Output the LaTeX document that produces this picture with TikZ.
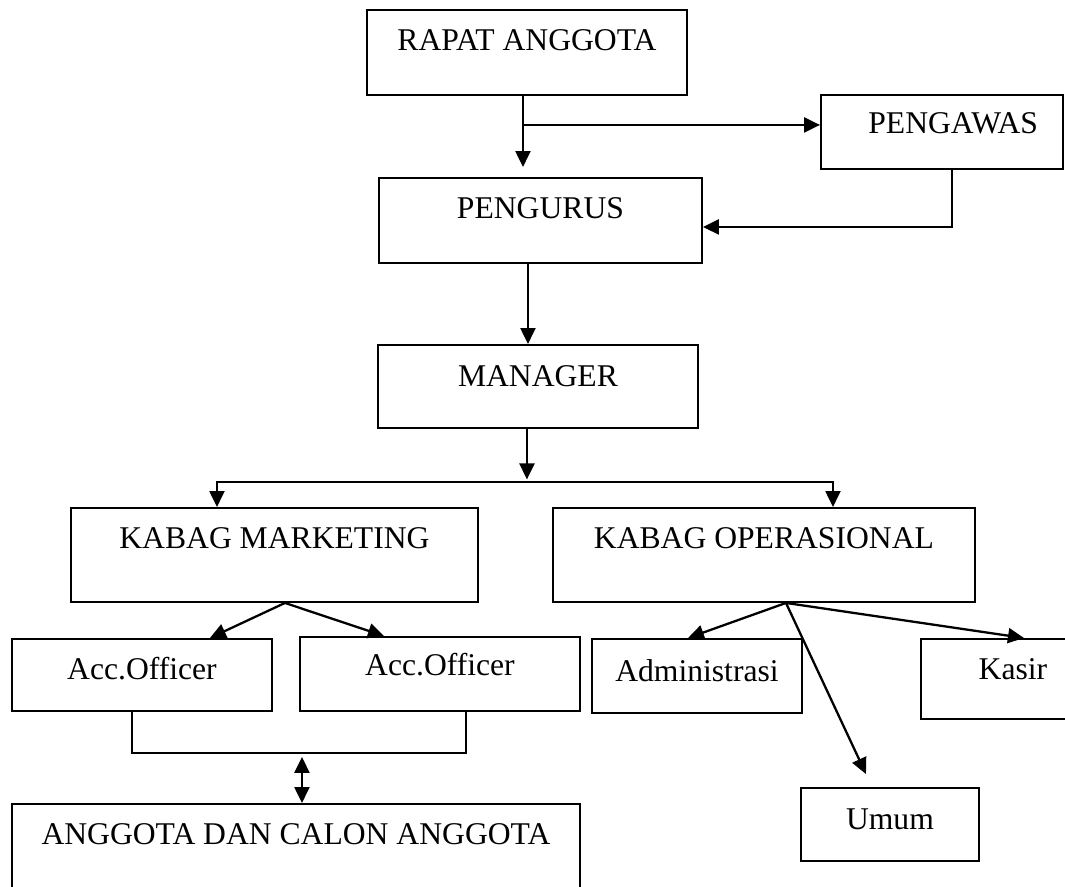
\documentclass[tikz,border=0pt]{standalone}
\usepackage{fontspec}
\setmainfont{Liberation Serif}
\usepackage{tikz}
\usetikzlibrary{arrows.meta}
\usetikzlibrary{positioning}
\tikzset{
    unit/.style={
           rectangle,
           draw=black,
           line width=1.1pt,
           anchor=north west,
           inner sep=0pt,
           text height=0.82cm,
           font=\fontsize{18}{20}\selectfont,
           text centered,
           },
}

\begin{document}
\begin{tikzpicture}[->,>={Triangle[length=0.32cm,width=0.30cm]},line width=1.3pt]
 \useasboundingbox (0,0) rectangle (21.3,-17.72);

 % top of the structure
 \node[unit,
 minimum width=6.40cm,
 text depth=0.88cm] (RAPAT) at (7.32,-0.18) {RAPAT ANGGOTA};
 \node[unit,
 minimum width=4.84cm,
 text height=0.78cm,
 text depth=0.70cm] (PENGAWAS) at (16.40,-1.88) {\hspace*{0.45cm}PENGAWAS};
 \node[unit,
 minimum width=6.46cm,
 text depth=0.88cm] (PENGURUS) at (7.56,-3.54) {PENGURUS};
 \node[unit,
 minimum width=6.40cm,
 text height=0.84cm,
 text depth=0.82cm] (MANAGER) at (7.54,-6.88) {MANAGER};

 % kepala bagian
 \node[unit,
 minimum width=8.14cm,
 text depth=1.06cm] (MARKETING) at (1.40,-10.14) {KABAG MARKETING};
 \node[unit,
 minimum width=8.44cm,
 text depth=1.06cm] (OPERASIONAL) at (11.04,-10.14) {KABAG OPERASIONAL};

 % staff
 \node[unit,
 minimum width=5.20cm,
 text depth=0.62cm] (ACC1) at (0.22,-12.76) {Acc.Officer};
 \node[unit,
 minimum width=5.60cm,
 text height=0.78cm,
 text depth=0.70cm] (ACC2) at (5.98,-12.72) {Acc.Officer};
 \node[unit,
 minimum width=4.20cm,
 text height=0.86cm,
 text depth=0.62cm] (ADMIN) at (11.82,-12.76) {Administrasi};
 \node[unit,
 minimum width=3.68cm,
 text depth=0.78cm] (KASIR) at (18.40,-12.76) {Kasir};
 \node[unit,
 minimum width=3.56cm,
 text height=0.84cm,
 text depth=0.62cm] (UMUM) at (16.00,-15.74) {Umum};
 \node[unit,
 minimum width=11.36cm,
 text depth=1.18cm] (ANGGOTA) at (0.22,-16.06) {ANGGOTA DAN CALON ANGGOTA};

 % connectors
 \path ([xshift=-0.08cm]RAPAT.south) coordinate (R1);
 \draw[shorten >=0.2cm] (R1) -- (R1 |- PENGURUS.north);
 \path (R1) ++(0,-0.58) coordinate (SPLIT);
 \draw (SPLIT) -- (SPLIT -| PENGAWAS.west);
 \draw ([xshift=0.2cm]PENGAWAS.south) |- ([yshift=-0.13cm]PENGURUS.east);

 \path ([xshift=-0.25cm]PENGURUS.south) coordinate (P1);
 \draw (P1) -- (P1 |- MANAGER.north);

 \path ([xshift=-0.22cm]MANAGER.south) coordinate (M1);
 \path (M1) ++(0,-1.06) coordinate (FORK);
 \draw[shorten >=0.05cm] (M1) -- (FORK);
 \draw (FORK) -| ([xshift=-1.15cm]MARKETING.north);
 \draw (FORK) -| ([xshift=1.38cm]OPERASIONAL.north);

 \draw ([xshift=0.21cm]MARKETING.south) -- ([xshift=1.36cm]ACC1.north);
 \draw ([xshift=0.21cm]MARKETING.south) -- ([xshift=-1.12cm]ACC2.north);

 \draw ([xshift=0.44cm]OPERASIONAL.south) -- ([xshift=-0.18cm]ADMIN.north);
 \draw ([xshift=0.44cm]OPERASIONAL.south) -- ([xshift=-0.48cm,yshift=0.26cm]UMUM.north);
 \draw ([xshift=0.44cm]OPERASIONAL.south) -- ([xshift=0.22cm]KASIR.north);

 % bracket under the officers
 \path ([xshift=-0.2cm]ACC1.south) coordinate (A1);
 \path ([xshift=0.52cm]ACC2.south) coordinate (A2);
 \path (A1) ++(0,-0.82) coordinate (J1);
 \draw[-,line width=0.8pt] (A1) -- (J1) -| (A2);
 \path (J1 -| ANGGOTA.north) ++(0.12,-0.08) coordinate (J2);
 \draw[<->] (J2) -- (J2 |- ANGGOTA.north);
\end{tikzpicture}
\end{document}
